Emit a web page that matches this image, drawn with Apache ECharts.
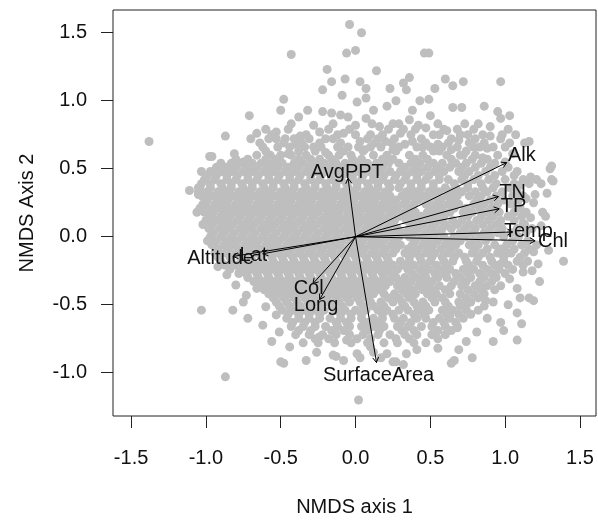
<!DOCTYPE html>
<html>
<head>
<meta charset="UTF-8">
<title>NMDS</title>
<script src="https://cdn.jsdelivr.net/npm/echarts@6/dist/echarts.min.js"></script>
<style>
  * { margin: 0; padding: 0; }
  #app { width: 598px; height: 525px; background: #fff; }
</style>
</head>
<body>
<div id="app"></div>
<script>
// site scores: sparse points round the edge
var rimPts = [
  [-0.04,1.56],[0.04,1.50],[-0.06,1.35],[0.00,1.37],[-0.43,1.34],[-0.19,1.23],[0.14,1.22],[-0.07,1.16],
  [-0.16,1.14],[0.03,1.14],[-0.22,1.08],[0.07,1.09],[0.23,1.09],[-0.09,1.04],[0.01,0.99],[0.07,1.02],
  [0.27,1.00],[-0.48,1.01],[-0.50,0.93],[-0.32,0.93],[-0.22,0.92],[-0.16,0.91],[-0.10,0.895],[-0.05,0.88],
  [0.12,0.93],[0.21,0.96],[-0.71,0.89],[-0.38,0.88],[0.00,0.82],[0.07,0.87],[0.16,0.81],[0.25,0.83],
  [-0.28,0.82],[-0.24,0.77],[-0.66,0.76],[-0.87,0.74],[-0.53,0.77],[-0.47,0.72],[-0.53,0.72],[-0.37,0.74],
  [-0.40,0.68],[-0.28,0.66],[-0.96,0.59],[-0.81,0.61],[-0.75,0.55],[-0.57,0.60],[-0.45,0.61],
  [-0.15,0.72],[-0.08,0.76],[0.03,0.70],[0.10,0.75],[0.20,0.70],[0.30,0.76],[0.33,0.68],[-0.12,0.66],
  [0.06,0.64],[0.25,0.64],[-0.20,0.62],
  [0.46,1.35],[0.49,1.35],[0.36,1.17],[0.32,1.13],[0.34,1.08],[0.60,1.16],[0.65,1.11],[0.72,1.14],
  [0.97,1.14],[0.53,1.09],[0.43,1.00],[0.49,1.01],[0.65,0.95],[0.71,0.95],[0.86,0.96],[0.95,0.92],
  [1.03,0.89],[0.97,0.87],[0.38,0.93],[0.36,0.86],[0.50,0.89],[0.47,0.80],[0.52,0.75],[0.59,0.79],
  [0.61,0.78],[0.42,0.82],[0.90,0.81],[1.07,0.75],[0.90,0.74],[0.75,0.75],[0.69,0.71],[1.16,0.70],
  [1.13,0.69],[0.79,0.66],[0.88,0.65],[0.95,0.60],[1.05,0.61],[1.31,0.52],[0.38,0.70],[0.45,0.66],
  [0.55,0.68],[0.64,0.64],[0.72,0.60],[0.85,0.58],[1.00,0.55],[1.08,0.48],[1.17,0.44],[1.30,0.50],
  [1.31,0.42],[1.24,0.39],[1.28,0.32],[1.32,0.41],[1.20,0.31],[1.16,0.39],[1.19,0.25],[1.27,0.15],
  [1.17,0.14],[1.25,0.18],[1.12,0.10],[1.10,0.38],[1.14,0.28],[1.21,0.42],[1.24,0.08],
  [1.39,-0.18],[1.29,-0.10],[1.19,-0.11],[1.18,-0.25],[1.23,-0.33],[1.16,-0.45],[1.19,-0.47],[1.08,-0.38],
  [1.03,-0.31],[1.12,-0.26],[1.01,-0.12],[0.97,-0.20],[0.92,-0.28],[0.83,-0.37],[0.74,-0.50],[0.63,-0.58],
  [0.87,-0.47],[1.08,-0.56],[1.11,-0.64],[0.97,-0.63],[1.08,-0.76],[0.99,-0.69],[0.88,-0.60],[0.81,-0.70],
  [0.92,-0.77],[0.74,-0.77],[0.68,-0.67],[1.15,-0.18],[1.22,-0.20],[1.10,-0.45],[1.02,-0.50],
  [-0.87,-1.03],[-0.50,-0.92],[-0.48,-0.93],[-0.33,-0.91],[0.02,-1.20],[-0.26,-0.85],[-0.13,-0.88],[-0.08,-0.91],
  [0.01,-0.86],[0.12,-0.85],[0.17,-0.89],[0.27,-0.92],[0.32,-0.94],[0.34,-0.86],[0.41,-0.83],[0.64,-0.93],
  [0.66,-0.91],[0.78,-0.89],[0.69,-0.83],[-0.44,-0.81],[-0.15,-0.87],[0.55,-0.82],[0.47,-0.78],[-0.24,-0.735],
  [-0.06,-0.76],[0.03,-0.89],[0.10,-0.81],[0.21,-0.86],[0.25,-0.92],
  [-0.80,-0.355],[-0.75,-0.48],[-0.82,-0.54],[-0.72,-0.60],[-0.73,-0.43],[-0.66,-0.38],[-0.60,-0.515],[-0.62,-0.65],
  [-0.56,-0.77],[-0.51,-0.70],[-0.53,-0.575],[-1.03,-0.54],[-0.86,-0.28],[-0.92,-0.22],
  [-1.38,0.70],[-1.11,0.34],[-1.05,0.36],[-1.05,0.31],[-1.03,0.48],[-0.975,0.59],[-1.06,0.18]
];

// site scores in the crowded middle, one row of x values per y
var coreRows = [
  [0.83, [-0.43,-0.15,0.11,0.29,0.55,0.73,0.82]],
  [0.79, [-0.60,-0.45,-0.18,-0.04,0.22,0.32,0.40,0.68,0.79,1.02]],
  [0.75, [-0.56,-0.33,-0.12,0.00,0.18,0.37,0.56,0.70,0.85,0.98]],
  [0.72, [-0.70,-0.58,-0.41,-0.31,-0.20,0.08,0.15,0.26,0.44,0.64,0.80,0.97]],
  [0.69, [-0.64,-0.48,-0.36,-0.24,-0.10,0.13,0.24,0.47,0.62,0.76,0.86,1.03]],
  [0.66, [-0.62,-0.52,-0.44,-0.34,-0.23,-0.05,0.02,0.10,0.17,0.29,0.41,0.50,0.58,0.68,0.83,0.92,1.00]],
  [0.63, [-0.60,-0.38,-0.27,-0.08,0.05,0.27,0.52,0.56,0.74]],
  [0.60, [-0.66,-0.50,-0.43,-0.33,-0.18,-0.11,-0.03,0.12,0.21,0.36,0.45,0.61,0.70,0.80]],
  [0.57, [-0.80,-0.72,-0.60,-0.53,-0.38,-0.30,-0.24,-0.16,-0.02,0.04,0.18,0.25,0.40,0.48,0.64,0.78,0.88]],
  [0.54, [-0.90,-0.83,-0.77,-0.69,-0.63,-0.55,-0.49,-0.41,-0.35,-0.27,-0.21,-0.13,-0.07,0.01,0.08,0.14,0.22,0.29,0.37,0.43,0.52,0.58,0.67,0.74,0.84,0.93]],
  [0.51, [-0.93,-0.86,-0.80,-0.73,-0.66,-0.59,-0.52,-0.45,-0.38,-0.31,-0.24,-0.17,-0.10,-0.03,0.05,0.11,0.18,0.33,0.40,0.48,0.55,0.63,0.71,0.80,0.90,1.02]],
  [0.48, [-0.97,-0.89,-0.83,-0.75,-0.69,-0.61,-0.55,-0.47,-0.41,-0.33,-0.27,-0.19,-0.13,-0.05,0.02,0.09,0.15,0.23,0.30,0.38,0.44,0.53,0.59,0.69,0.76,0.87,0.98]],
  [0.45, [-0.99,-0.93,-0.86,-0.79,-0.72,-0.65,-0.58,-0.51,-0.44,-0.37,-0.30,-0.23,-0.16,-0.09,-0.02,0.05,0.12,0.19,0.27,0.34,0.41,0.49,0.56,0.73,0.82,0.93,1.06]],
  [0.42, [-1.01,-0.94,-0.86,-0.80,-0.72,-0.66,-0.58,-0.52,-0.44,-0.38,-0.30,-0.24,-0.16,-0.10,-0.02,0.04,0.12,0.18,0.26,0.33,0.41,0.47,0.56,0.62,0.71,0.79,0.89,1.00,1.12]],
  [0.39, [-1.03,-0.97,-0.90,-0.83,-0.76,-0.69,-0.62,-0.55,-0.48,-0.41,-0.34,-0.27,-0.20,-0.13,-0.06,0.01,0.08,0.15,0.22,0.30,0.37,0.44,0.52,0.66,0.75,0.84,0.94,1.06]],
  [0.36, [-1.04,-0.97,-0.89,-0.83,-0.75,-0.69,-0.61,-0.55,-0.47,-0.41,-0.33,-0.27,-0.19,-0.13,-0.05,0.01,0.09,0.15,0.23,0.29,0.37,0.44,0.52,0.60,0.67,0.75,0.85,0.92,1.03]],
  [0.33, [-1.05,-0.99,-0.92,-0.85,-0.78,-0.71,-0.64,-0.57,-0.50,-0.43,-0.36,-0.29,-0.22,-0.15,-0.08,-0.01,0.06,0.13,0.20,0.34,0.41,0.49,0.56,0.64,0.71,0.80,0.88,0.98,1.08]],
  [0.30, [-1.03,-0.95,-0.89,-0.81,-0.75,-0.67,-0.61,-0.53,-0.47,-0.39,-0.33,-0.25,-0.19,-0.11,-0.05,0.03,0.09,0.17,0.23,0.31,0.38,0.45,0.53,0.61,0.68,0.76,0.84,0.94,1.05,1.12]],
  [0.27, [-0.99,-0.92,-0.85,-0.78,-0.71,-0.64,-0.57,-0.50,-0.43,-0.36,-0.29,-0.22,-0.15,-0.08,-0.01,0.06,0.13,0.20,0.27,0.34,0.42,0.49,0.57,0.65,0.81,0.90,0.99,1.09]],
  [0.24, [-1.02,-0.94,-0.88,-0.80,-0.74,-0.66,-0.60,-0.52,-0.46,-0.38,-0.32,-0.24,-0.18,-0.10,-0.04,0.04,0.10,0.18,0.24,0.32,0.39,0.47,0.54,0.62,0.69,0.79,0.86,0.95,1.04]],
  [0.21, [-1.04,-0.98,-0.91,-0.84,-0.77,-0.70,-0.63,-0.56,-0.49,-0.42,-0.35,-0.28,-0.21,-0.14,-0.07,0.00,0.07,0.14,0.21,0.28,0.36,0.51,0.58,0.66,0.74,0.83,0.91,1.10]],
  [0.18, [-1.01,-0.95,-0.87,-0.81,-0.73,-0.67,-0.59,-0.53,-0.45,-0.39,-0.31,-0.25,-0.17,-0.11,-0.03,0.03,0.11,0.17,0.25,0.33,0.40,0.48,0.55,0.63,0.72,0.78,0.88,0.96,1.06,1.14]],
  [0.15, [-0.97,-0.90,-0.84,-0.77,-0.70,-0.63,-0.56,-0.49,-0.42,-0.35,-0.28,-0.20,-0.13,-0.06,0.01,0.08,0.15,0.22,0.30,0.37,0.44,0.52,0.59,0.75,0.84,0.92,1.02,1.11]],
  [0.12, [-1.00,-0.93,-0.86,-0.79,-0.72,-0.65,-0.58,-0.51,-0.44,-0.37,-0.30,-0.23,-0.16,-0.09,-0.02,0.05,0.12,0.19,0.26,0.34,0.41,0.49,0.56,0.65,0.71,0.81,0.89,0.97,1.06]],
  [0.09, [-1.02,-0.96,-0.89,-0.82,-0.75,-0.68,-0.61,-0.54,-0.47,-0.40,-0.33,-0.26,-0.19,-0.12,-0.05,0.02,0.09,0.16,0.23,0.38,0.45,0.53,0.60,0.68,0.76,0.85,0.94,1.13]],
  [0.06, [-0.98,-0.91,-0.85,-0.77,-0.71,-0.63,-0.57,-0.49,-0.43,-0.35,-0.29,-0.21,-0.15,-0.07,-0.01,0.07,0.13,0.21,0.28,0.36,0.42,0.50,0.58,0.64,0.73,0.80,0.90,0.98,1.08,1.18]],
  [0.03, [-0.95,-0.88,-0.81,-0.74,-0.67,-0.60,-0.53,-0.46,-0.39,-0.32,-0.25,-0.18,-0.11,-0.04,0.04,0.11,0.18,0.25,0.32,0.39,0.47,0.54,0.70,0.78,0.86,0.95,1.04,1.14]],
  [0.00, [-0.97,-0.90,-0.83,-0.76,-0.69,-0.62,-0.55,-0.48,-0.41,-0.34,-0.27,-0.20,-0.13,-0.06,0.01,0.08,0.15,0.22,0.29,0.36,0.44,0.51,0.59,0.66,0.74,0.83,0.90,0.99,1.09]],
  [-0.03, [-0.99,-0.93,-0.86,-0.79,-0.72,-0.65,-0.58,-0.51,-0.44,-0.37,-0.30,-0.23,-0.16,-0.09,-0.02,0.05,0.12,0.19,0.26,0.40,0.48,0.55,0.63,0.70,0.79,0.87,1.05,1.15]],
  [-0.06, [-0.96,-0.88,-0.82,-0.74,-0.68,-0.60,-0.54,-0.46,-0.40,-0.32,-0.26,-0.18,-0.12,-0.04,0.02,0.10,0.16,0.24,0.30,0.38,0.45,0.52,0.60,0.67,0.76,0.82,0.93,1.01,1.11,1.21]],
  [-0.09, [-0.92,-0.85,-0.78,-0.71,-0.64,-0.57,-0.50,-0.43,-0.36,-0.29,-0.22,-0.15,-0.08,-0.01,0.06,0.13,0.20,0.27,0.35,0.42,0.49,0.57,0.64,0.80,0.88,0.97,1.06,1.16]],
  [-0.12, [-0.94,-0.87,-0.80,-0.73,-0.66,-0.59,-0.52,-0.45,-0.38,-0.31,-0.24,-0.17,-0.10,-0.03,0.04,0.11,0.18,0.25,0.33,0.39,0.47,0.53,0.62,0.69,0.78,0.85,0.95,1.04,1.13]],
  [-0.15, [-0.92,-0.84,-0.77,-0.70,-0.63,-0.56,-0.49,-0.42,-0.35,-0.28,-0.21,-0.14,-0.07,0.00,0.07,0.14,0.21,0.36,0.43,0.51,0.58,0.66,0.73,0.82,0.90,0.99,1.10]],
  [-0.18, [-0.90,-0.83,-0.76,-0.69,-0.62,-0.55,-0.48,-0.41,-0.34,-0.27,-0.20,-0.13,-0.06,0.01,0.08,0.15,0.22,0.30,0.36,0.44,0.50,0.59,0.65,0.74,0.81,0.91,0.99,1.08]],
  [-0.21, [-0.87,-0.80,-0.73,-0.66,-0.59,-0.52,-0.45,-0.38,-0.31,-0.24,-0.17,-0.10,-0.03,0.04,0.11,0.18,0.25,0.32,0.39,0.46,0.54,0.61,0.76,0.85,0.93,1.02,1.12]],
  [-0.24, [-0.84,-0.77,-0.70,-0.63,-0.56,-0.49,-0.42,-0.35,-0.28,-0.21,-0.14,-0.07,0.00,0.07,0.14,0.21,0.28,0.35,0.43,0.49,0.57,0.63,0.72,0.79,0.88,0.96,1.05]],
  [-0.27, [-0.78,-0.73,-0.66,-0.59,-0.52,-0.45,-0.38,-0.31,-0.24,-0.17,-0.10,-0.03,0.04,0.11,0.18,0.24,0.38,0.46,0.53,0.60,0.67,0.75,0.83,0.91,1.00]],
  [-0.30, [-0.72,-0.65,-0.58,-0.51,-0.44,-0.37,-0.30,-0.23,-0.16,-0.09,-0.02,0.05,0.12,0.19,0.27,0.33,0.41,0.47,0.55,0.61,0.70,0.77,0.86,0.94]],
  [-0.33, [-0.68,-0.61,-0.54,-0.47,-0.40,-0.33,-0.26,-0.19,-0.12,-0.05,0.02,0.09,0.16,0.23,0.30,0.37,0.44,0.51,0.66,0.74,0.83,0.91]],
  [-0.36, [-0.64,-0.57,-0.50,-0.43,-0.36,-0.29,-0.22,-0.15,-0.08,-0.01,0.06,0.13,0.20,0.28,0.34,0.42,0.48,0.56,0.64,0.71,0.80,0.88,0.97]],
  [-0.39, [-0.61,-0.54,-0.47,-0.40,-0.33,-0.26,-0.19,-0.12,-0.05,0.02,0.09,0.16,0.31,0.38,0.45,0.52,0.60,0.75,0.84,0.93]],
  [-0.42, [-0.58,-0.51,-0.44,-0.37,-0.30,-0.23,-0.16,-0.09,-0.02,0.05,0.12,0.19,0.26,0.34,0.40,0.48,0.54,0.63,0.70,0.79,0.86]],
  [-0.45, [-0.55,-0.48,-0.41,-0.34,-0.27,-0.20,-0.13,-0.06,0.01,0.08,0.22,0.29,0.36,0.51,0.58,0.74,0.82]],
  [-0.48, [-0.53,-0.46,-0.39,-0.32,-0.25,-0.18,-0.11,-0.04,0.03,0.10,0.17,0.25,0.31,0.39,0.45,0.53,0.60,0.69,0.77,0.92]],
  [-0.51, [-0.51,-0.44,-0.37,-0.30,-0.23,-0.16,-0.09,0.05,0.12,0.19,0.33,0.41,0.47,0.62,0.70,0.86]],
  [-0.54, [-0.49,-0.42,-0.35,-0.28,-0.21,-0.14,-0.07,0.00,0.07,0.15,0.21,0.29,0.35,0.43,0.49,0.58,0.65,0.74,0.82]],
  [-0.57, [-0.45,-0.38,-0.31,-0.24,-0.10,-0.03,0.04,0.18,0.25,0.39,0.46,0.61,0.69,0.77]],
  [-0.60, [-0.46,-0.38,-0.31,-0.24,-0.17,-0.10,-0.03,0.04,0.12,0.18,0.26,0.32,0.41,0.47,0.56,0.63,0.72]],
  [-0.63, [-0.42,-0.34,-0.27,-0.13,-0.06,0.08,0.15,0.30,0.37,0.52,0.59,0.67]],
  [-0.66, [-0.43,-0.35,-0.27,-0.20,-0.12,-0.04,0.04,0.12,0.19,0.28,0.35,0.44,0.51,0.60,0.68]],
  [-0.69, [-0.38,-0.30,-0.16,-0.08,0.08,0.16,0.31,0.39,0.55,0.64]],
  [-0.72, [-0.40,-0.31,-0.22,-0.13,-0.04,0.05,0.15,0.23,0.33,0.41,0.51,0.60]],
  [-0.75, [-0.27,-0.18,0.01,0.10,0.27,0.36,0.55]],
  [-0.78, [-0.35,-0.25,-0.14,-0.03,0.08,0.19,0.28,0.39]]
];

// fitted environmental vectors (arrow heads)
var vecNames = ['AvgPPT', 'Alk', 'TN', 'TP', 'Temp', 'Chl', 'Altitude', 'Lat', 'Col', 'Long', 'SurfaceArea'];
var vecX = [-0.05, 1.01, 0.955, 0.96, 1.05, 1.20, -0.82, -0.62, -0.285, -0.24, 0.14];
var vecY = [0.43, 0.545, 0.295, 0.205, 0.035, -0.03, -0.145, -0.125, -0.345, -0.462, -0.925];

var tickVals = [-1.5, -1.0, -0.5, 0.0, 0.5, 1.0, 1.5];

var sites = rimPts.slice();
coreRows.forEach(function (row) {
  row[1].forEach(function (x) { sites.push([x, row[0]]); });
});
var vecData = vecX.map(function (x, i) { return [x, vecY[i]]; });

var FONT = '"Liberation Sans", Arial, sans-serif';
var myChart = echarts.init(document.getElementById('app'));

function axisBits(name, gap, isY) {
  return {
    type: 'value',
    name: name,
    nameLocation: 'middle',
    nameGap: gap,
    nameTextStyle: { fontFamily: FONT, fontSize: 20, color: '#111' },
    axisLine: { show: false, onZero: false },
    splitLine: { show: false },
    axisTick: { show: true, inside: false, length: 12, customValues: tickVals,
      lineStyle: { color: '#222', width: 1 } },
    axisLabel: { customValues: tickVals, margin: isY ? 26 : 32,
      fontFamily: FONT, fontSize: 20, color: '#111',
      formatter: function (v) { return v.toFixed(1); } }
  };
}

var xAx = axisBits('NMDS axis 1', 81, false);
xAx.min = -1.621; xAx.max = 1.607;
var yAx = axisBits('NMDS Axis 2', 76, true);
yAx.min = -1.318; yAx.max = 1.667;

option = {
  animation: false,
  backgroundColor: '#fff',
  grid: { left: 113, right: 2, top: 10, bottom: 109, show: true,
    borderColor: '#222', borderWidth: 1, backgroundColor: 'transparent' },
  xAxis: xAx,
  yAxis: yAx,
  series: [{
    type: 'scatter',
    symbolSize: 9,
    itemStyle: { color: '#bebebe', opacity: 1 },
    data: sites,
    z: 1
  }, {
    type: 'custom',
    z: 5,
    data: vecData,
    renderItem: function (params, api) {
      var x = api.value(0), y = api.value(1);
      var p0 = api.coord([0, 0]);
      var p1 = api.coord([x, y]);
      var pl = api.coord([x * 1.1, y * 1.1]);
      var a = Math.atan2(p1[1] - p0[1], p1[0] - p0[0]);
      var L = 6, w = Math.PI / 6;
      var h1 = [p1[0] - L * Math.cos(a - w), p1[1] - L * Math.sin(a - w)];
      var h2 = [p1[0] - L * Math.cos(a + w), p1[1] - L * Math.sin(a + w)];
      return {
        type: 'group',
        children: [
          { type: 'line', shape: { x1: p0[0], y1: p0[1], x2: p1[0], y2: p1[1] },
            style: { stroke: '#000', lineWidth: 1 } },
          { type: 'polyline', shape: { points: [h1, p1, h2] },
            style: { stroke: '#000', lineWidth: 1, fill: null } },
          { type: 'text', x: pl[0], y: pl[1],
            style: { text: vecNames[params.dataIndex], fill: '#111',
              font: '20px ' + FONT, align: 'center', verticalAlign: 'middle' } }
        ]
      };
    }
  }]
};

myChart.setOption(option);
</script>
</body>
</html>
